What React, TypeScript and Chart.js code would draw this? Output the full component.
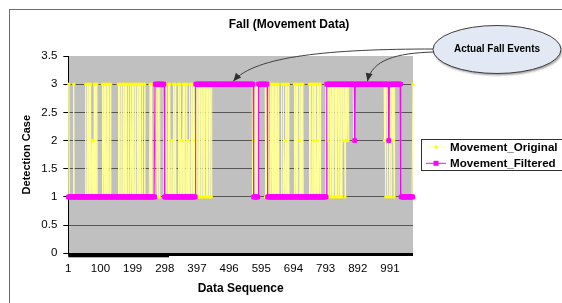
import React, { useEffect, useRef } from "react";
import { Chart, registerables } from "chart.js";

Chart.register(...registerables);

// ---------------- data ----------------
const chartTitle = "Fall (Movement Data)";
const xAxisTitle = "Data Sequence";
const yAxisTitle = "Detection Case";
const calloutText = "Actual Fall Events";

const dataLength = 1062;
const xTickValues = [1, 100, 199, 298, 397, 496, 595, 694, 793, 892, 991];
const yTickValues = [0, 0.5, 1, 1.5, 2, 2.5, 3, 3.5];

// [index from which the value holds, value]
const filteredSteps: [number, number][] = [
  [1, 1], [268, 3], [297, 1], [393, 3], [571, 1], [586, 3], [614, 1],
  [796, 3], [882, 2], [884, 3], [987, 2], [989, 3], [1025, 1],
];

const originalSteps: [number, number][] = [
  [1, 1], [3, 3], [4, 1], [18, 3], [19, 1],
  [55, 3], [56, 1], [60, 3], [61, 1], [65, 3], [66, 1], [70, 3], [71, 1], [74, 2], [75, 1],
  [78, 2], [79, 1], [81, 3], [82, 1], [85, 3], [86, 1], [89, 3], [90, 1],
  [106, 3], [107, 1], [111, 3], [112, 1], [116, 3], [117, 1], [121, 3], [122, 1], [126, 3],
  [127, 1], [131, 3], [132, 1],
  [155, 3], [156, 1], [160, 3], [161, 1], [166, 3], [167, 1], [171, 3], [172, 1], [176, 3],
  [177, 1], [181, 3], [182, 1], [187, 3], [188, 1], [192, 3], [193, 1], [198, 3], [199, 1],
  [203, 3], [204, 1], [208, 3], [209, 1], [214, 3], [215, 1], [219, 3], [220, 1], [224, 3],
  [225, 1], [229, 3], [230, 1], [236, 3], [237, 1],
  [253, 3], [254, 1], [258, 3], [259, 1],
  [268, 3], [275, 1], [276, 3], [281, 1], [282, 3], [296, 1],
  [299, 3], [300, 1], [304, 3], [305, 1], [309, 3], [310, 1], [314, 3], [315, 1], [320, 2],
  [321, 1], [325, 3], [326, 1], [330, 3], [331, 1], [340, 3], [341, 1], [345, 3], [346, 1],
  [350, 2], [351, 1], [355, 3], [356, 1], [360, 3], [361, 1], [365, 3], [366, 1], [370, 2],
  [371, 1], [375, 3], [376, 1], [380, 3], [381, 1], [385, 3], [386, 1], [390, 2], [391, 3],
  [396, 1], [397, 3], [401, 1], [402, 3], [406, 1], [407, 3], [411, 1], [412, 3], [416, 1],
  [417, 3], [421, 1], [422, 3], [426, 1], [427, 3], [431, 1], [432, 3], [436, 1], [437, 3],
  [441, 1], [442, 3],
  [569, 1], [571, 2], [572, 1], [576, 3], [577, 1], [580, 3], [581, 1], [584, 3],
  [608, 1], [609, 3], [612, 1], [613, 3], [614, 1],
  [618, 3], [619, 1], [623, 3], [624, 1], [628, 3], [629, 1], [633, 3], [634, 1], [638, 3],
  [639, 1], [643, 3], [644, 1], [647, 3], [648, 1],
  [658, 3], [659, 1], [663, 3], [664, 1], [669, 2], [670, 3], [671, 1], [674, 3], [675, 1],
  [678, 3], [679, 1],
  [697, 3], [698, 1], [702, 3], [703, 1], [707, 3], [708, 1], [713, 2], [714, 3], [715, 1],
  [718, 3], [719, 1], [723, 3], [724, 1],
  [743, 3], [744, 1], [748, 3], [749, 1], [753, 3], [754, 1], [757, 2], [758, 3], [759, 1],
  [762, 3], [763, 1], [767, 2], [768, 3], [769, 1], [771, 3], [772, 1], [776, 3], [777, 1],
  [793, 3], [798, 2], [799, 3], [803, 1], [804, 3], [808, 1], [809, 3], [813, 1], [814, 3],
  [818, 1], [819, 3], [823, 1], [824, 3], [828, 1], [829, 3], [833, 1], [834, 3], [838, 1],
  [839, 3], [843, 1], [844, 3], [848, 2], [849, 3], [853, 1], [854, 3], [858, 2], [859, 3],
  [862, 2], [863, 3],
  [880, 2], [883, 3],
  [974, 2], [975, 3], [978, 1], [979, 3], [983, 1], [984, 3], [986, 2], [987, 3], [990, 1],
  [991, 3], [995, 1], [996, 3], [1000, 2], [1001, 3], [1004, 1], [1005, 3],
  [1024, 1], [1062, 3],
];

// where the callout arrows point (data coordinates)
const arrowTargets = [
  { x: 509, y: 3 },
  { x: 922, y: 3 },
];
// extra-heavy stretch of the category axis line (data coordinates)
const axisHeavyEnd = 311;

function expandSteps(steps: [number, number][], n: number) {
  const out: { x: number; y: number }[] = [];
  let s = 0;
  for (let i = 1; i <= n; i++) {
    while (s + 1 < steps.length && steps[s + 1][0] <= i) s++;
    out.push({ x: i, y: steps[s][1] });
  }
  return out;
}

const FONT = "'Liberation Sans', Arial, sans-serif";

const decorPlugin = {
  id: "decor",
  beforeDraw(chart: any) {
    const { ctx, chartArea: a, width, height } = chart;
    ctx.save();
    ctx.fillStyle = "#ffffff";
    ctx.fillRect(0, 0, width, height);
    ctx.strokeStyle = "#6e6e6e";
    ctx.lineWidth = 1;
    ctx.strokeRect(9.5, 9.5, width + 20, height + 20);
    ctx.fillStyle = "#c0c0c0";
    ctx.fillRect(a.left, a.top, a.right - a.left, a.bottom - a.top);
    ctx.restore();
  },
  afterDraw(chart: any) {
    const { ctx, chartArea: a } = chart;
    const xs = chart.scales.x;
    const ys = chart.scales.y;
    ctx.save();

    // category axis line
    ctx.fillStyle = "#000";
    ctx.fillRect(a.left, a.bottom - 0.3, a.right - a.left, 3);
    const heavyEnd = xs.getPixelForValue(axisHeavyEnd);
    ctx.fillRect(a.left, a.bottom - 0.3, heavyEnd - a.left, 4.3);

    // title
    ctx.fillStyle = "#000";
    ctx.font = `bold 12px ${FONT}`;
    ctx.textAlign = "center";
    ctx.textBaseline = "middle";
    ctx.fillText(chartTitle, 289, 25);

    // legend
    const lx = 421.5, ly = 139.5, lw = 141, lh = 31;
    ctx.fillStyle = "#fff";
    ctx.fillRect(lx, ly, lw, lh);
    ctx.strokeStyle = "#303030";
    ctx.lineWidth = 1;
    ctx.strokeRect(lx, ly, lw, lh);
    const ds = chart.data.datasets;
    ds.forEach((d: any, i: number) => {
      const cy = 147 + i * 16.3;
      ctx.strokeStyle = d.borderColor;
      ctx.lineWidth = 1;
      ctx.beginPath();
      ctx.moveTo(426, cy);
      ctx.lineTo(446, cy);
      ctx.stroke();
      ctx.fillStyle = d.pointBackgroundColor;
      if (d.pointStyle === "rect") {
        ctx.fillRect(433.5, cy - 2.5, 5, 5);
      } else {
        ctx.beginPath();
        ctx.arc(436, cy, 1.7, 0, Math.PI * 2);
        ctx.fill();
      }
      ctx.fillStyle = "#000";
      ctx.font = `bold 11.6px ${FONT}`;
      ctx.textAlign = "left";
      ctx.textBaseline = "middle";
      ctx.fillText(d.label, 450, cy + 0.5);
    });

    // callout arrows
    ctx.strokeStyle = "#404040";
    ctx.fillStyle = "#303030";
    ctx.lineWidth = 1;
    const starts = [
      { sx: 434, sy: 49, c1x: 330, c1y: 49, c2x: 255, c2y: 56 },
      { sx: 434, sy: 52, c1x: 396, c1y: 53, c2x: 372, c2y: 60 },
    ];
    arrowTargets.forEach((t, i) => {
      const tx = xs.getPixelForValue(t.x);
      const ty = ys.getPixelForValue(t.y) - 3;
      const s = starts[i];
      ctx.beginPath();
      ctx.moveTo(s.sx, s.sy);
      ctx.bezierCurveTo(s.c1x, s.c1y, s.c2x, s.c2y, tx, ty);
      ctx.stroke();
      const ang = Math.atan2(ty - s.c2y, tx - s.c2x);
      const L = 8, W = 3.5;
      ctx.beginPath();
      ctx.moveTo(tx, ty);
      ctx.lineTo(tx - L * Math.cos(ang) + W * Math.sin(ang), ty - L * Math.sin(ang) - W * Math.cos(ang));
      ctx.lineTo(tx - L * Math.cos(ang) - W * Math.sin(ang), ty - L * Math.sin(ang) + W * Math.cos(ang));
      ctx.closePath();
      ctx.fill();
    });

    // callout ellipse
    ctx.save();
    ctx.shadowColor = "rgba(0,0,0,0.35)";
    ctx.shadowOffsetX = 1;
    ctx.shadowOffsetY = 2;
    ctx.shadowBlur = 2;
    ctx.beginPath();
    ctx.ellipse(497, 49.5, 64, 24, 0, 0, Math.PI * 2);
    ctx.fillStyle = "#e3e9f4";
    ctx.fill();
    ctx.restore();
    ctx.beginPath();
    ctx.ellipse(497, 49.5, 64, 24, 0, 0, Math.PI * 2);
    ctx.strokeStyle = "#3c3c3c";
    ctx.lineWidth = 1;
    ctx.stroke();
    ctx.fillStyle = "#000";
    ctx.font = `bold 10px ${FONT}`;
    ctx.textAlign = "center";
    ctx.textBaseline = "middle";
    ctx.fillText(calloutText, 497, 49.5);

    ctx.restore();
  },
};

export default function App() {
  const ref = useRef<HTMLCanvasElement>(null);
  useEffect(() => {
    if (!ref.current) return;
    Chart.defaults.font.family = FONT;
    const chart = new Chart(ref.current, {
      type: "line",
      data: {
        datasets: [
          {
            label: "Movement_Original",
            data: expandSteps(originalSteps, dataLength),
            borderColor: "#ffff99",
            borderWidth: 1,
            pointStyle: "circle",
            pointRadius: 1.6,
            pointBackgroundColor: "#ffff00",
            pointBorderWidth: 0,
            tension: 0,
            order: 2,
            clip: false,
          } as any,
          {
            label: "Movement_Filtered",
            data: expandSteps(filteredSteps, dataLength),
            borderColor: "#ff00ff",
            borderWidth: 1,
            pointStyle: "rect",
            pointRadius: 2.6,
            pointBackgroundColor: "#ff00ff",
            pointBorderColor: "#ff00ff",
            pointBorderWidth: 0.6,
            tension: 0,
            order: 1,
            clip: false,
          } as any,
        ],
      },
      options: {
        responsive: false,
        animation: false,
        events: [],
        layout: { padding: { left: 10, top: 56, right: 149, bottom: 0 } },
        plugins: {
          legend: { display: false },
          tooltip: { enabled: false },
          title: { display: false },
        },
        scales: {
          x: {
            type: "linear",
            min: 1,
            max: dataLength,
            afterBuildTicks: (scale: any) => {
              scale.ticks = xTickValues.map((v) => ({ value: v }));
            },
            afterFit: (scale: any) => {
              scale.height = 49.7;
            },
            grid: { display: false, drawTicks: false },
            border: { display: false },
            ticks: {
              autoSkip: false,
              maxRotation: 0,
              padding: 8.8,
              color: "#000",
              font: { size: 11.5, family: FONT },
              callback: (v: any) => String(v),
            },
            title: {
              display: true,
              text: xAxisTitle,
              color: "#000",
              font: { size: 12, weight: "bold", family: FONT },
              padding: { top: 0, bottom: 7.5 },
            },
          },
          y: {
            type: "linear",
            min: 0,
            max: 3.5,
            afterBuildTicks: (scale: any) => {
              scale.ticks = yTickValues.map((v) => ({ value: v }));
            },
            afterFit: (scale: any) => {
              scale.width = 58.3;
            },
            grid: {
              color: (c: any) =>
                c.tick && (c.tick.value === 0 || c.tick.value === 3.5) ? "rgba(0,0,0,0)" : "#555555",
              lineWidth: 1,
              drawTicks: true,
              tickLength: 5,
              tickColor: "#000",
            },
            border: { display: true, color: "#000", width: 1 },
            ticks: {
              padding: 6,
              color: "#000",
              font: { size: 11.5, family: FONT },
              callback: (v: any) => String(v),
            },
            title: {
              display: true,
              text: yAxisTitle,
              color: "#000",
              font: { size: 11, weight: "bold", family: FONT },
              padding: { top: 10.3, bottom: 0 },
            },
          },
        },
      } as any,
      plugins: [decorPlugin],
    });
    return () => chart.destroy();
  }, []);
  return (
    <div style={{ position: "absolute", left: 0, top: 0, width: 562, height: 303 }}>
      <canvas ref={ref} width={562} height={303} style={{ display: "block", width: 562, height: 303 }} />
    </div>
  );
}
